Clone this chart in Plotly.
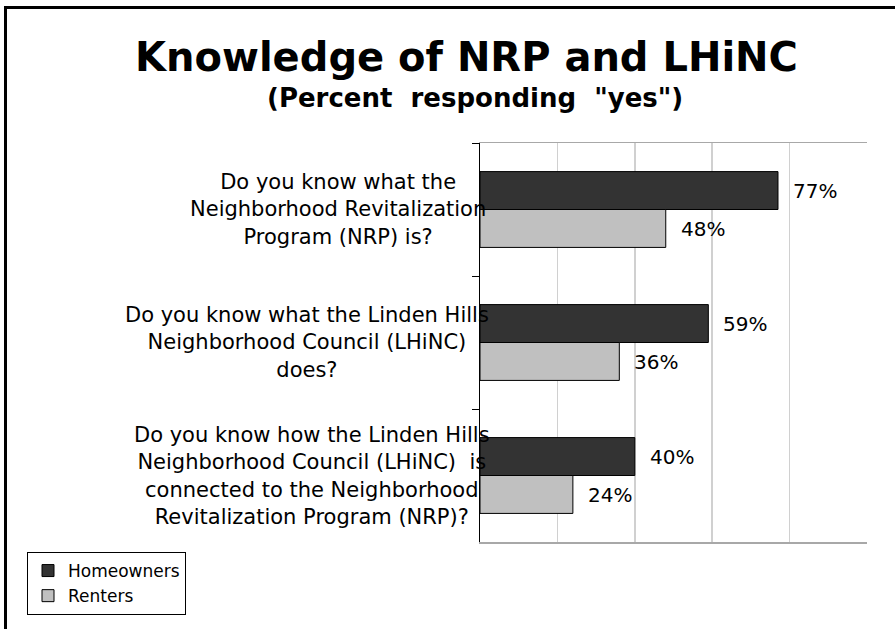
import plotly.graph_objects as go

# ---- data ----
categories = [
    "Do you know what the<br>Neighborhood Revitalization<br>Program (NRP) is?",
    "Do you know what the Linden Hills<br>Neighborhood Council (LHiNC)<br>does?",
    "Do you know how the Linden Hills<br>Neighborhood Council (LHiNC)  is<br>connected to the Neighborhood<br>Revitalization Program (NRP)?",
]
series_names = ["Homeowners", "Renters"]
homeowners = [77, 59, 40]
renters = [48, 36, 24]
title_text = "Knowledge of NRP and LHiNC"
subtitle_text = '(Percent&nbsp;&nbsp;responding&nbsp;&nbsp;"yes")'

# ---- layout helpers (page pixel coords) ----
W, H = 895, 629
L, R, T, B = 480, 28, 143, 87
pw, ph = W - L - R, H - T - B


def xp(px):
    return (px - L) / pw


def yp(py):
    return (H - B - py) / ph


label_centers_px = [338, 307, 312]
series_colors = ["#333333", "#c0c0c0"]
series_values = [homeowners, renters]
bar_shift = [19, -19]

fig = go.Figure()
for name, vals, col in zip(series_names, series_values, series_colors):
    fig.add_trace(go.Bar(
        y=categories, x=vals, orientation="h", name=name,
        marker=dict(color=col, line=dict(color="#000000", width=1)),
        hoverinfo="skip",
    ))

annotations = []
# data labels
for vals, sh in zip(series_values, bar_shift):
    for cat, v in zip(categories, vals):
        annotations.append(dict(
            x=v, y=cat, xref="x", yref="y", text=f"{v}%", showarrow=False,
            xanchor="left", yanchor="middle", xshift=13, yshift=sh,
            font=dict(family="DejaVu Sans", size=20, color="#000000"),
        ))
# category labels
for cat, cx in zip(categories, label_centers_px):
    annotations.append(dict(
        x=xp(cx), y=cat, xref="paper", yref="y", text=cat, showarrow=False,
        xanchor="center", yanchor="middle", align="center",
        font=dict(family="DejaVu Sans", size=21, color="#000000"),
    ))
# title & subtitle
annotations.append(dict(
    x=xp(466), y=yp(57), xref="paper", yref="paper", text=f"<b>{title_text}</b>",
    showarrow=False, xanchor="center", yanchor="middle",
    font=dict(family="DejaVu Sans", size=40, color="#000000"),
))
annotations.append(dict(
    x=xp(475), y=yp(98), xref="paper", yref="paper", text=f"<b>{subtitle_text}</b>",
    showarrow=False, xanchor="center", yanchor="middle",
    font=dict(family="DejaVu Sans", size=26, color="#000000"),
))

shapes = [
    dict(type="line", xref="paper", yref="paper", x0=xp(5.5), x1=xp(5.5),
         y0=yp(640), y1=yp(6), line=dict(color="#000000", width=3)),
    dict(type="line", xref="paper", yref="paper", x0=xp(4), x1=xp(900),
         y0=yp(7.5), y1=yp(7.5), line=dict(color="#000000", width=3)),
]

fig.update_layout(
    width=W, height=H,
    margin=dict(l=L, r=R, t=T, b=B, pad=0),
    paper_bgcolor="#ffffff", plot_bgcolor="#ffffff",
    barmode="group", bargap=0.43, bargroupgap=0,
    showlegend=True,
    legend=dict(
        x=xp(27), y=yp(552), xanchor="left", yanchor="top",
        bordercolor="#000000", borderwidth=1, bgcolor="#ffffff",
        font=dict(family="DejaVu Sans", size=17, color="#000000"),
        traceorder="normal", itemwidth=30,
    ),
    xaxis=dict(
        range=[0, 100], dtick=20, showgrid=True, gridcolor="#d0d0d0", gridwidth=1.5,
        showticklabels=False, zeroline=False, ticks="",
        showline=True, mirror=True, linecolor="#a8a8a8", linewidth=1.5,
        fixedrange=True,
    ),
    yaxis=dict(
        autorange="reversed", showticklabels=False, showgrid=False,
        showline=True, linecolor="#000000", linewidth=1,
        ticks="outside", tickson="boundaries", ticklen=7, tickcolor="#000000",
        zeroline=False, fixedrange=True,
    ),
    annotations=annotations, shapes=shapes,
)

fig.write_html(
    "out.html",
    config={"displayModeBar": False, "staticPlot": True},
    post_script="document.body.style.margin='0';document.body.style.overflow='hidden';",
)
